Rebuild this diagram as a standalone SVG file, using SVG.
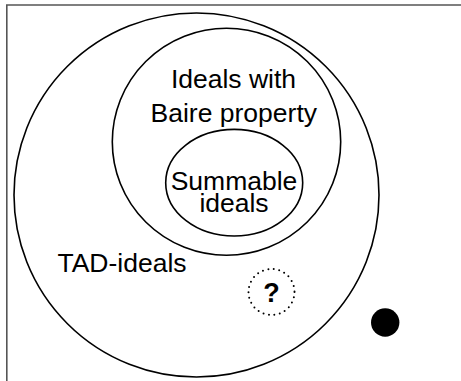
<svg xmlns="http://www.w3.org/2000/svg" width="461" height="381" viewBox="0 0 461 381">
<style>
.set{fill:none;stroke:#000;stroke-width:1.6}
.lbl{font-family:"Liberation Sans",Arial,sans-serif;font-size:26.5px;fill:#000;text-anchor:middle}
</style>
<rect width="461" height="381" fill="#fff"/>
<path d="M6.8,381 V5 H461" fill="none" stroke="#555" stroke-width="1.6"/>
<g id="tad">
<ellipse class="set" cx="196.5" cy="195" rx="182.5" ry="182"/>
<text class="lbl" x="122" y="271.5">TAD-ideals</text>
</g>
<g id="baire">
<ellipse class="set" cx="226.5" cy="141.8" rx="114.2" ry="113.5"/>
<text class="lbl" x="233.5" y="87.5">Ideals with</text>
<text class="lbl" x="233.8" y="121.8">Baire property</text>
</g>
<g id="summable">
<ellipse class="set" cx="234.2" cy="182.7" rx="68.5" ry="53.3"/>
<text class="lbl" x="234" y="189.5">Summable</text>
<text class="lbl" x="234" y="211.8">ideals</text>
</g>
<g id="unknown">
<circle cx="271.5" cy="292" r="23" fill="none" stroke="#000" stroke-width="2" stroke-linecap="round" stroke-dasharray="0 5.5"/>
<text x="271.5" y="302" font-family="Liberation Sans,Arial,sans-serif" font-size="27" font-weight="bold" text-anchor="middle">?</text>
</g>
<g id="dot">
<circle cx="385.2" cy="322.5" r="14.2" fill="#000"/>
</g>
<g id="connectors"/>
</svg>
